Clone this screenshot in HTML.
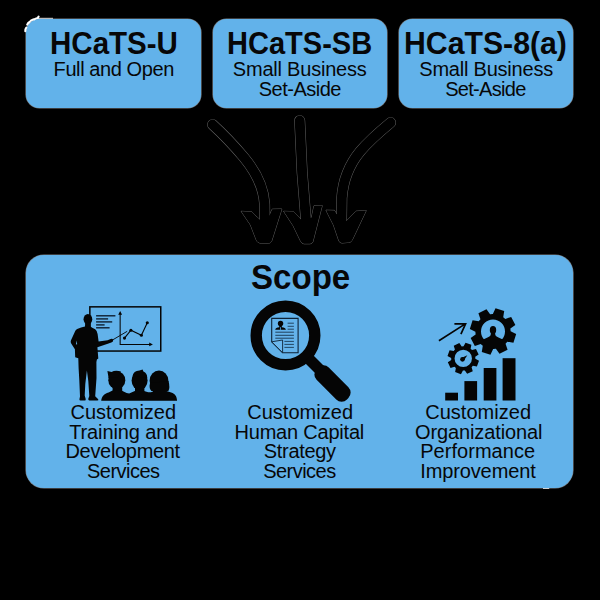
<!DOCTYPE html>
<html>
<head>
<meta charset="utf-8">
<title>HCaTS Scope</title>
<style>
  html, body { margin: 0; padding: 0; }
  body {
    width: 600px; height: 600px; overflow: hidden;
    background: #000;
    font-family: "Liberation Sans", sans-serif;
    color: #070708;
    position: relative;
  }
  .box {
    position: absolute;
    background: #62b2ea;
    border-radius: 13.5px;
    box-shadow: 0 0 0 0.6px rgba(235,245,255,0.5);
  }
  #b1 { left: 26.3px; top: 19.3px; width: 174.6px; height: 88.9px; }
  #b2 { left: 213.2px; top: 19.3px; width: 174.3px; height: 88.9px; }
  #b3 { left: 399.2px; top: 19.3px; width: 174.2px; height: 88.9px; }
  #scope { left: 26.3px; top: 255.4px; width: 547px; height: 232.4px; border-radius: 18px; }

  .t {
    position: absolute;
    white-space: nowrap;
    line-height: 1;
    transform-origin: 0 0;
  }
  .h  { font-weight: bold; font-size: 31.2px; }
  .s  { font-size: 20px; }
  .hs { font-weight: bold; font-size: 35.4px; }
  .l  { font-size: 20px; }
  svg { position: absolute; left: 0; top: 0; }
</style>
</head>
<body>
  <div class="box" id="b1"></div>
  <div class="box" id="b2"></div>
  <div class="box" id="b3"></div>
  <div class="box" id="scope"></div>

  <!-- TEXT-START -->
  <div class="t h" id="h1" style="left:49.71px; top:27.79px; transform:scaleX(0.9466);">HCaTS-U</div>
  <div class="t s" id="s1" style="left:53.60px; top:58.87px; letter-spacing:-0.409px;">Full and Open</div>
  <div class="t h" id="h2" style="left:226.94px; top:27.79px; transform:scaleX(0.9307);">HCaTS-SB</div>
  <div class="t s" id="s2a" style="left:232.80px; top:58.87px; letter-spacing:-0.209px;">Small Business</div>
  <div class="t s" id="s2b" style="left:258.70px; top:78.67px; letter-spacing:-0.498px;">Set-Aside</div>
  <div class="t h" id="h3" style="left:404.26px; top:27.79px; transform:scaleX(0.9690);">HCaTS-8(a)</div>
  <div class="t s" id="s3a" style="left:419.30px; top:58.87px; letter-spacing:-0.217px;">Small Business</div>
  <div class="t s" id="s3b" style="left:445.20px; top:78.67px; letter-spacing:-0.698px;">Set-Aside</div>
  <div class="t hs" id="hs" style="left:250.57px; top:260.43px; transform:scaleX(0.9347);">Scope</div>
  <div class="t l" id="l1a" style="left:70.50px; top:402.07px; letter-spacing:0.003px;">Customized</div>
  <div class="t l" id="l1b" style="left:69.20px; top:421.67px; letter-spacing:-0.120px;">Training and</div>
  <div class="t l" id="l1c" style="left:65.50px; top:441.37px; letter-spacing:-0.319px;">Development</div>
  <div class="t l" id="l1d" style="left:87.00px; top:461.07px; letter-spacing:-0.527px;">Services</div>
  <div class="t l" id="l2a" style="left:247.20px; top:402.07px; letter-spacing:0.036px;">Customized</div>
  <div class="t l" id="l2b" style="left:234.50px; top:421.67px; letter-spacing:-0.212px;">Human Capital</div>
  <div class="t l" id="l2c" style="left:263.80px; top:441.37px; letter-spacing:-0.326px;">Strategy</div>
  <div class="t l" id="l2d" style="left:263.20px; top:461.07px; letter-spacing:-0.527px;">Services</div>
  <div class="t l" id="l3a" style="left:425.20px; top:402.07px; letter-spacing:0.036px;">Customized</div>
  <div class="t l" id="l3b" style="left:415.00px; top:421.67px; letter-spacing:-0.117px;">Organizational</div>
  <div class="t l" id="l3c" style="left:420.20px; top:441.37px; letter-spacing:0.043px;">Performance</div>
  <div class="t l" id="l3d" style="left:420.20px; top:461.07px; letter-spacing:-0.115px;">Improvement</div>
  <!-- TEXT-END -->

  <svg id="art" width="600" height="600" viewBox="0 0 600 600">
    <!-- ARROWS -->
    <g id="arrows">
      <path d="M212.6,124.6 C223,134 236,148 244,157.5 C256,172 263.5,186 264.6,204 L264.8,222" fill="none" stroke="rgba(255,255,255,0.42)" stroke-width="10.9" stroke-linecap="round"/>
      <path d="M299.7,120.6 C300.6,150 303,190 306.3,224" fill="none" stroke="rgba(255,255,255,0.42)" stroke-width="10.9" stroke-linecap="round"/>
      <path d="M390.6,122.6 C381,130.5 368,142 360,151.5 C349,165 343,180 341.8,198 L341.5,222" fill="none" stroke="rgba(255,255,255,0.42)" stroke-width="10.9" stroke-linecap="round"/>
      <path d="M241.2,211.3 L251.5,211.8 L260,219.8 L269.6,215.2 L272.2,209.2 L281.8,209.0 L271.5,241.5 Q270.5,243.3 268,243.2 L260,243 Q257.5,242.8 256.5,240.5 L250.5,225 Z" fill="none" stroke="rgba(255,255,255,0.42)" stroke-width="0.9" stroke-linejoin="round"/>
      <path d="M283.7,211.3 L293.5,211.6 L301.5,220 L311.5,217.5 L314,205.8 L322.2,205.6 L312.8,242 Q312,243.8 310,243.8 L304,243.8 Q301.8,243.6 300.8,241.5 L293,225.5 Z" fill="none" stroke="rgba(255,255,255,0.42)" stroke-width="0.9" stroke-linejoin="round"/>
      <path d="M326,210.2 L334.5,210.4 L336.6,214 L346.4,221 L356,211.2 L366.2,210.6 L352,240.5 Q350.8,242.3 348.5,242.4 L342,243 Q339.5,243 338.8,240.6 L333.5,225 Z" fill="none" stroke="rgba(255,255,255,0.42)" stroke-width="0.9" stroke-linejoin="round"/>
      <path d="M212.6,124.6 C223,134 236,148 244,157.5 C256,172 263.5,186 264.6,204 L264.8,222" fill="none" stroke="#000" stroke-width="10" stroke-linecap="round"/>
      <path d="M299.7,120.6 C300.6,150 303,190 306.3,224" fill="none" stroke="#000" stroke-width="10" stroke-linecap="round"/>
      <path d="M390.6,122.6 C381,130.5 368,142 360,151.5 C349,165 343,180 341.8,198 L341.5,222" fill="none" stroke="#000" stroke-width="10" stroke-linecap="round"/>
      <path d="M241.2,211.3 L251.5,211.8 L260,219.8 L269.6,215.2 L272.2,209.2 L281.8,209.0 L271.5,241.5 Q270.5,243.3 268,243.2 L260,243 Q257.5,242.8 256.5,240.5 L250.5,225 Z" fill="#000"/>
      <path d="M283.7,211.3 L293.5,211.6 L301.5,220 L311.5,217.5 L314,205.8 L322.2,205.6 L312.8,242 Q312,243.8 310,243.8 L304,243.8 Q301.8,243.6 300.8,241.5 L293,225.5 Z" fill="#000"/>
      <path d="M326,210.2 L334.5,210.4 L336.6,214 L346.4,221 L356,211.2 L366.2,210.6 L352,240.5 Q350.8,242.3 348.5,242.4 L342,243 Q339.5,243 338.8,240.6 L333.5,225 Z" fill="#000"/>
      <path d="M25.3,31.2 q-0.2,-2.2 1.0,-3.6 M27.2,24.6 q0.8,-1.6 2.4,-2.6 M30.6,20.8 q1.2,-1.0 2.6,-1.4 M34.2,19.4 q2.2,-1.4 3.6,-1.4 l0.8,-1.4" fill="none" stroke="#fff" stroke-width="2.1" stroke-linecap="round"/>
      <path d="M543,488.5 h6.2" fill="none" stroke="#fff" stroke-width="0.9" opacity="0.85"/>
      <path d="M37.5,18.3 h15.5" fill="none" stroke="#fff" stroke-width="0.9" opacity="0.9"/>
    </g>
    <!-- ICON1 -->
    <g id="icon1">
      <rect x="89.85" y="306.85" width="70.9" height="44.2" fill="none" stroke="#050505" stroke-width="1.5"/>
      <line x1="96.1" y1="315.8" x2="115.4" y2="315.8" stroke="#0c1a2a" stroke-width="1.35"/>
      <line x1="96.1" y1="318.9" x2="108.1" y2="318.9" stroke="#0c1a2a" stroke-width="1.35"/>
      <line x1="96.1" y1="321.9" x2="112.2" y2="321.9" stroke="#0c1a2a" stroke-width="1.35"/>
      <line x1="96.1" y1="324.9" x2="104.6" y2="324.9" stroke="#0c1a2a" stroke-width="1.35"/>
      <line x1="96.1" y1="327.8" x2="109.6" y2="327.8" stroke="#0c1a2a" stroke-width="1.35"/>
      <path d="M120.15,313 V344.4 H150.5" fill="none" stroke="#050505" stroke-width="1.05"/>
      <path d="M120.15,310.9 L122.1,314.8 H118.2 Z M152.9,344.4 L149.2,342.5 V346.3 Z" fill="#050505"/>
      <polyline points="124.5,338.1 130.9,330.2 141.4,335.3 147.3,322.8" fill="none" stroke="#050505" stroke-width="1.1"/>
      <circle cx="124.5" cy="338.1" r="1.55" fill="#050505"/>
      <circle cx="130.9" cy="330.2" r="1.55" fill="#050505"/>
      <circle cx="141.4" cy="335.3" r="1.55" fill="#050505"/>
      <circle cx="147.3" cy="322.8" r="1.55" fill="#050505"/>
      <line x1="111.5" y1="340.6" x2="127.2" y2="331.3" stroke="#050505" stroke-width="0.9"/>
      <ellipse cx="87.9" cy="319.3" rx="4.35" ry="5.35" fill="#050505"/>
      <path d="M85.2,322.5 L85.0,326.6 Q81,327.6 77.2,328.9 Q75.6,329.6 75.0,331.5 L70.9,340.5 Q70.3,342.2 71.2,343.6 L74.9,349.3 L75.2,357.3 L78.3,358.2 L78.6,368 L79.3,380 L80.0,396.6 L79.4,399.2 Q79.3,400.6 80.6,400.6 L85.0,400.6 Q85.9,400.5 85.7,399.0 L84.7,395.6 L85.3,384 L86.9,370.4 L88.3,381 L89.3,396.0 L88.3,398.8 Q88.0,400.6 89.5,400.6 L97.2,400.6 Q98.9,400.5 98.2,399.2 L95.2,396.2 L96.5,378 L96.4,362 L96.9,359.4 L98.3,358.6 L97.4,347.2 L108.5,343.6 L111.3,342.6 Q113.6,341.6 113.2,340.0 Q112.6,338.4 110.6,339.0 L107.6,340.2 L98.6,341.4 L97.6,334 Q96.9,330.4 95.2,329.3 Q92.5,327.8 90.7,326.8 L90.6,322.5 Z" fill="#050505"/>
      <path d="M76.6,340.6 L75.9,344.6 L77.2,344.2 Z" fill="#62b2ea"/>
      <ellipse cx="116.8" cy="380.2" rx="8.5" ry="9.0" fill="#050505"/>
      <ellipse cx="139.6" cy="380.6" rx="8.0" ry="9.4" fill="#050505"/>
      <ellipse cx="159.0" cy="380.8" rx="9.4" ry="10.2" fill="#050505"/>
      <path d="M107.4,370.9 L111.5,372.0 Q115.5,369.8 121,371.6 L118,377 L108.6,378 Z" fill="#050505"/>
      <path d="M132.6,376 Q133.4,370.6 139.5,370.4 L142.6,369.6 L143.4,371.4 Q147.4,373 147.2,378 Z" fill="#050505"/>
      <path d="M150.0,383 Q148.8,388.5 151.4,391 L168.4,391 Q170.2,388 168.6,381 Z" fill="#050505"/>
      <path d="M112.6,384 H122.2 V393 H112.6 Z M135.0,384 H144.4 V393 H135.0 Z M153,386 H166 V393 H153 Z" fill="#050505"/>
      <path d="M101.2,400.7 C101.8,396.2 104,393.8 108.6,392.4 L112.5,390.6 L121.5,390.6 L126.6,393.0 L129.2,393.4 L134.8,391.0 L144,391.0 L148.2,392.2 L151.0,392.2 L154,391 L166.5,391 L171.2,392.6 C175.2,394 176.8,396.6 177.1,400.7 Z" fill="#050505"/>
    </g>
    <!-- ICON2 -->
    <g id="icon2">
      <circle cx="285.5" cy="335.5" r="29.3" fill="none" stroke="#050505" stroke-width="11.4"/>
      <line x1="308" y1="358" x2="323" y2="373" stroke="#050505" stroke-width="11.3"/>
      <rect x="0" y="-8.6" width="43" height="17.2" rx="7.6" transform="translate(317.3,368.3) rotate(45)" fill="#050505"/>
      <path d="M271.7,318.4 H298.1 V352.7 H282.6 L271.7,341.8 Z" fill="#64b3eb" stroke="#0e2236" stroke-width="1.1" stroke-linejoin="miter"/>
      <path d="M271.7,341.8 L282.6,340.0 V352.7 Z" fill="#6cb8ee" stroke="#0e2236" stroke-width="0.9" stroke-linejoin="round"/>
      <ellipse cx="280.55" cy="323.6" rx="2.7" ry="2.8" fill="#050505"/>
      <path d="M279.3,325.5 V327.3 Q275.6,327.6 275.2,329.8 H285.9 Q285.5,327.6 281.8,327.3 V325.5 Z" fill="#050505"/>
      <path d="M280.1,327.3 H281.0 L280.9,330.3 H280.2 Z" fill="#4aa6ea"/>
      <line x1="287.6" y1="323.2" x2="293.9" y2="323.2" stroke="#0e2236" stroke-width="0.75"/>
      <line x1="287.6" y1="326.3" x2="293.9" y2="326.3" stroke="#0e2236" stroke-width="0.75"/>
      <line x1="287.6" y1="329.2" x2="293.9" y2="329.2" stroke="#0e2236" stroke-width="0.75"/>
      <line x1="275.3" y1="332.2" x2="293.9" y2="332.2" stroke="#0e2236" stroke-width="0.8"/>
      <line x1="275.3" y1="335.3" x2="293.9" y2="335.3" stroke="#0e2236" stroke-width="0.8"/>
      <line x1="275.3" y1="338.2" x2="293.9" y2="338.2" stroke="#0e2236" stroke-width="0.8"/>
      <line x1="284.4" y1="341.4" x2="293.9" y2="341.4" stroke="#0e2236" stroke-width="0.75"/>
      <line x1="284.4" y1="344.4" x2="293.9" y2="344.4" stroke="#0e2236" stroke-width="0.75"/>
      <line x1="284.4" y1="347.4" x2="293.9" y2="347.4" stroke="#0e2236" stroke-width="0.75"/>
    </g>
    <!-- ICON3 -->
    <g id="icon3">
      <path d="M492.85,313.90 L495.54,308.34 L504.21,311.07 L503.22,317.17 L505.34,318.95 L511.17,316.92 L515.37,324.98 L510.36,328.60 L510.60,331.35 L516.16,334.04 L513.43,342.71 L507.33,341.72 L505.55,343.84 L507.58,349.67 L499.52,353.87 L495.90,348.86 L493.15,349.10 L490.46,354.66 L481.79,351.93 L482.78,345.83 L480.66,344.05 L474.83,346.08 L470.63,338.02 L475.64,334.40 L475.40,331.65 L469.84,328.96 L472.57,320.29 L478.67,321.28 L480.45,319.16 L478.42,313.33 L486.48,309.13 L490.10,314.14 Z M481.00,331.50 a12.00,12.00 0 1,0 24.00,0 a12.00,12.00 0 1,0 -24.00,0 Z" fill="#050505" fill-rule="evenodd"/>
      <ellipse cx="493.0" cy="330.0" rx="3.2" ry="3.9" fill="#050505"/>
      <path d="M491.0,332.5 L490.6,335.3 Q489.8,336.8 487.5,337.5 L483.2,339.6 L485,345 L501,345 L502.8,339.6 L498.5,337.5 Q496.2,336.8 495.4,335.3 L495.0,332.5 Z" fill="#050505"/>
      <path d="M463.57,346.30 L465.53,342.66 L471.38,344.74 L470.62,348.80 L472.03,350.07 L475.99,348.89 L478.66,354.49 L475.25,356.82 L475.35,358.72 L478.99,360.68 L476.91,366.53 L472.85,365.77 L471.58,367.18 L472.76,371.14 L467.16,373.81 L464.83,370.40 L462.93,370.50 L460.97,374.14 L455.12,372.06 L455.88,368.00 L454.47,366.73 L450.51,367.91 L447.84,362.31 L451.25,359.98 L451.15,358.08 L447.51,356.12 L449.59,350.27 L453.65,351.03 L454.92,349.62 L453.74,345.66 L459.34,342.99 L461.67,346.40 Z M454.55,358.40 a8.70,8.70 0 1,0 17.40,0 a8.70,8.70 0 1,0 -17.40,0 Z" fill="#050505" fill-rule="evenodd"/>
      <circle cx="462.5" cy="359.3" r="2.35" fill="#050505"/>
      <path d="M461.4,358.0 L467.3,355.2 L463.9,360.6 Z" fill="#050505"/>
      <path d="M438.9,340.8 L465.3,323.9 M454.4,323.8 H465.6 L460.9,334.2" fill="none" stroke="#050505" stroke-width="1.7" stroke-linejoin="miter"/>
      <rect x="445.2" y="392.7" width="12.80" height="7.80" fill="#050505"/>
      <rect x="464.4" y="381.1" width="12.70" height="19.40" fill="#050505"/>
      <rect x="483.7" y="368.0" width="12.70" height="32.50" fill="#050505"/>
      <rect x="502.6" y="358.2" width="12.90" height="42.30" fill="#050505"/>
    </g>
  </svg>
</body>
</html>
